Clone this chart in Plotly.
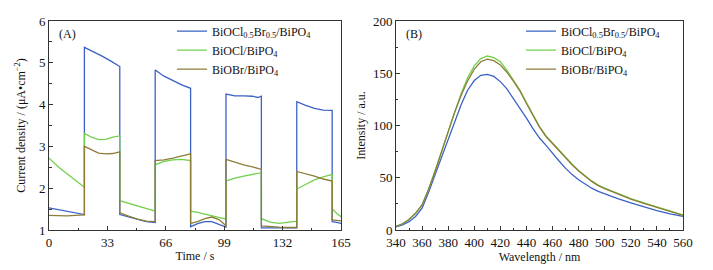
import plotly.graph_objects as go

# ---------------- Panel A: photocurrent (time series) ----------------
t_blue = [0, 5, 10, 15, 20, 20, 25, 30, 35, 40, 40, 45, 50, 55, 60, 60, 65, 70, 75, 80,
          80, 84, 88, 92, 96, 100, 100, 105, 110, 115, 118, 120, 120, 125, 130, 135, 140,
          140, 145, 150, 155, 160, 160, 162.5, 165]
i_blue = [1.53, 1.49, 1.45, 1.41, 1.37, 5.37, 5.27, 5.16, 5.04, 4.91, 1.37, 1.31, 1.25, 1.20, 1.18,
          4.83, 4.68, 4.57, 4.47, 4.39, 1.08, 1.15, 1.20, 1.20, 1.14, 1.07,
          4.25, 4.21, 4.21, 4.20, 4.17, 4.20, 1.05, 1.05, 1.04, 1.05, 1.05,
          4.07, 3.98, 3.91, 3.87, 3.86, 1.20, 1.18, 1.16]

t_green = [0, 5, 10, 15, 20, 20, 24, 28, 32, 36, 40, 40, 45, 50, 55, 60, 60, 65, 70, 75, 80,
           80, 84, 88, 92, 96, 100, 100, 105, 110, 115, 120, 120, 125, 130, 135, 140,
           140, 145, 150, 155, 160, 160, 162.5, 165]
i_green = [2.72, 2.52, 2.35, 2.18, 2.02, 3.31, 3.22, 3.16, 3.17, 3.22, 3.25, 1.70, 1.64, 1.57, 1.51, 1.45,
           2.56, 2.64, 2.68, 2.69, 2.66, 1.45, 1.42, 1.38, 1.34, 1.30, 1.26,
           2.17, 2.24, 2.29, 2.33, 2.37, 1.27, 1.19, 1.16, 1.18, 1.21,
           1.98, 2.10, 2.20, 2.27, 2.33, 1.51, 1.40, 1.32]

t_brown = [0, 5, 10, 15, 20, 20, 24, 28, 32, 36, 40, 40, 45, 50, 55, 60, 60, 65, 70, 75, 80,
           80, 84, 88, 92, 96, 100, 100, 105, 110, 115, 120, 120, 125, 130, 135, 140,
           140, 145, 150, 155, 160, 160, 162.5, 165]
i_brown = [1.35, 1.34, 1.34, 1.35, 1.36, 3.00, 2.92, 2.84, 2.82, 2.83, 2.87, 1.41, 1.33, 1.26, 1.21, 1.20,
           2.66, 2.68, 2.72, 2.77, 2.82, 1.16, 1.20, 1.27, 1.31, 1.25, 1.10,
           2.69, 2.62, 2.56, 2.51, 2.45, 1.10, 1.08, 1.07, 1.06, 1.06,
           2.40, 2.35, 2.29, 2.22, 2.17, 1.24, 1.23, 1.22]

time_ticks = [0, 33, 66, 99, 132, 165]

# ---------------- Panel B: PL spectra ----------------
wl = [340, 345, 350, 355, 360, 365, 370, 375, 380, 385, 390, 395, 400, 405, 410, 415, 420, 425,
      430, 435, 440, 445, 450, 455, 460, 465, 470, 475, 480, 485, 490, 495, 500, 510, 520, 530,
      540, 550, 560]
pl_blue = [3, 5, 8, 13, 21, 36, 53, 70, 86, 104, 120, 134, 143, 148, 149, 147, 142, 135,
           126, 117, 107, 97, 88, 81, 73, 66, 59, 53, 48, 44, 40, 37, 34.5, 30, 26, 22,
           18.5, 15.5, 13]
pl_green = [3.5, 6, 10, 16, 24, 39, 57, 76, 95, 114, 131, 146, 157, 164, 166.5, 165, 161, 153,
            144, 134, 122, 110, 99, 90, 83, 76, 69, 63, 57, 52, 47, 43, 40, 35, 30, 26,
            22, 18, 14.5]
pl_brown = [3.5, 6, 10, 16, 24, 39, 56, 75, 94, 113, 129, 143, 154, 161, 163.5, 162, 158, 151,
            142.5, 133, 121, 109.5, 98.5, 89.5, 82.5, 75.5, 68.5, 62.5, 56.5, 51.5, 46.5, 42.5, 39.5,
            34.5, 29.5, 25.5, 21.5, 17.5, 14]

names = ["BiOCl<sub>0.5</sub>Br<sub>0.5</sub>/BiPO<sub>4</sub>",
         "BiOCl/BiPO<sub>4</sub>",
         "BiOBr/BiPO<sub>4</sub>"]
colors = ["#3a62c6", "#72d04e", "#8c7d38"]

FONT = "Liberation Serif"
fig = go.Figure()

for t, v, n, c in zip([t_blue, t_green, t_brown], [i_blue, i_green, i_brown], names, colors):
    fig.add_trace(go.Scatter(x=t, y=v, mode="lines", name=n, line=dict(color=c, width=1.3),
                             xaxis="x", yaxis="y", legend="legend"))

for v, n, c in zip([pl_blue, pl_green, pl_brown], names, colors):
    fig.add_trace(go.Scatter(x=wl, y=v, mode="lines", name=n, line=dict(color=c, width=1.3),
                             xaxis="x2", yaxis="y2", legend="legend2"))

axis_common = dict(showline=True, linecolor="#333", linewidth=1, mirror=True, ticks="inside",
                   ticklen=4, tickcolor="#333", showgrid=False, zeroline=False, automargin=False,
                   tickfont=dict(family=FONT, size=13, color="#111"),
                   title_font=dict(family=FONT, size=12, color="#111"))

# the page body adds an 8 px offset; margins compensate so the plot area sits at x 49..683, y 17..230
fig.update_layout(
    width=713, height=270,
    margin=dict(l=41, r=38, t=9, b=48),
    paper_bgcolor="white", plot_bgcolor="white",
    font=dict(family=FONT, color="#111"),
    xaxis=dict(domain=[0, 0.4606], range=[0, 165], tickvals=time_ticks,
               minor=dict(dtick=16.5, ticks="inside", ticklen=2.5, tickcolor="#333"),
               title=dict(text="Time / s", standoff=3), anchor="y", **axis_common),
    yaxis=dict(domain=[0, 1], range=[1, 6], dtick=1,
               minor=dict(dtick=0.5, ticks="inside", ticklen=2.5, tickcolor="#333"),
               title=dict(text="Current density / (μA•cm<sup>−2</sup>)", standoff=10), anchor="x",
               **axis_common),
    xaxis2=dict(domain=[0.5473, 1], range=[340, 560], dtick=20,
                minor=dict(dtick=10, ticks="inside", ticklen=2.5, tickcolor="#333"),
                title=dict(text="Wavelength / nm", standoff=3), anchor="y2", **axis_common),
    yaxis2=dict(domain=[0, 1], range=[0, 200], dtick=50,
                minor=dict(dtick=25, ticks="inside", ticklen=2.5, tickcolor="#333"),
                title=dict(text="Intensity / a.u.", standoff=4), anchor="x2", **axis_common),
    legend=dict(x=0.194, y=1.021, xanchor="left", yanchor="top", bgcolor="rgba(0,0,0,0)",
                font=dict(family=FONT, size=12), itemwidth=30, tracegroupgap=0),
    legend2=dict(x=0.7445, y=1.021, xanchor="left", yanchor="top", bgcolor="rgba(0,0,0,0)",
                 font=dict(family=FONT, size=12), itemwidth=30, tracegroupgap=0),
    annotations=[
        dict(text="(A)", x=0.012, y=0.983, xref="paper", yref="paper", xanchor="left",
             yanchor="top", showarrow=False, font=dict(family=FONT, size=12)),
        dict(text="(B)", x=0.5473 + 0.012, y=0.983, xref="paper", yref="paper", xanchor="left",
             yanchor="top", showarrow=False, font=dict(family=FONT, size=12)),
    ],
)

fig.write_html("out.html")
